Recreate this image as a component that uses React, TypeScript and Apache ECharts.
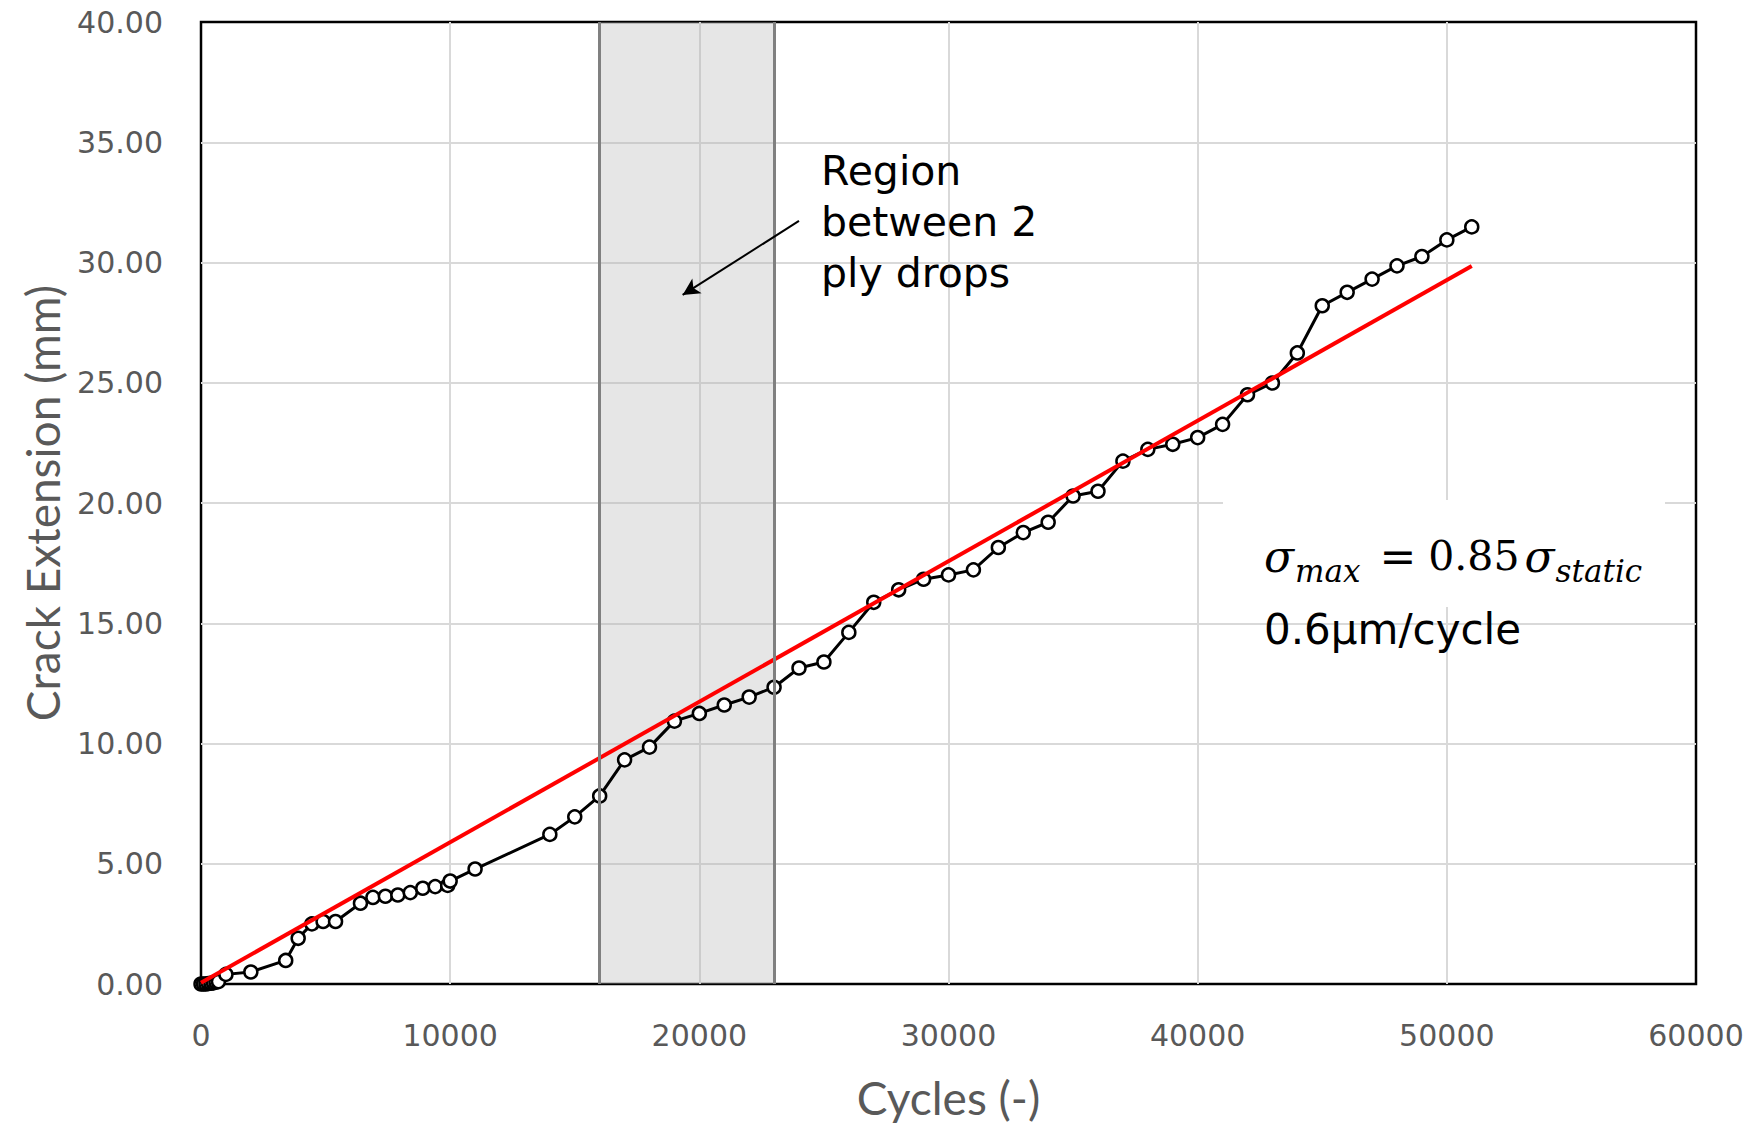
import React, { useEffect, useRef } from "react";
import * as echarts from "echarts";

// Measured crack growth: cycles vs crack extension (mm)
const cycles = [
  0, 100, 200, 300, 400, 500, 600, 700, 1000, 2000, 3400, 3900, 4450, 4900, 5400, 6400, 6900,
  7400, 7900, 8400, 8900, 9400, 9900, 10000, 11000, 14000, 15000, 16000, 17000, 18000, 19000,
  20000, 21000, 22000, 23000, 24000, 25000, 26000, 27000, 28000, 29000, 30000, 31000, 32000,
  33000, 34000, 35000, 36000, 37000, 38000, 39000, 40000, 41000, 42000, 43000, 44000, 45000,
  46000, 47000, 48000, 49000, 50000, 51000,
];
const crackExtension = [
  0, 0, 0, 0.02, 0.03, 0.05, 0.08, 0.1, 0.4, 0.5, 0.98, 1.9, 2.5, 2.6, 2.6, 3.36, 3.6,
  3.65, 3.7, 3.8, 3.98, 4.05, 4.1, 4.28, 4.78, 6.22, 6.95, 7.82, 9.32, 9.85, 10.93,
  11.25, 11.6, 11.93, 12.34, 13.14, 13.39, 14.62, 15.87, 16.39, 16.83, 17.01, 17.22, 18.15,
  18.77, 19.2, 20.29, 20.49, 21.74, 22.23, 22.44, 22.72, 23.27, 24.5, 24.99, 26.24, 28.2,
  28.76, 29.31, 29.86, 30.25, 30.94, 31.48,
];

// Linear fit (about 0.6 µm/cycle)
const fitCycles = [0, 51000];
const fitExtension = [0.05, 29.85];

// Region between the two ply drops
const plyDropStart = 16000;
const plyDropEnd = 23000;

// Arrow pointing into the region
const arrowFrom = [24000, 31.73];
const arrowTo = [19330, 28.65];

const xTicks = { min: 0, max: 60000, interval: 10000 };
const yTicks = { min: 0, max: 40, interval: 5 };

const axisFont = '"DejaVu Sans", Verdana, sans-serif';
const nameFont = 'Lato, "Noto Sans", sans-serif';
const serif = '"DejaVu Serif", "Liberation Serif", serif';

export default function App() {
  const ref = useRef<HTMLDivElement>(null);

  useEffect(() => {
    document.body.style.margin = "0";
    if (!ref.current) return;
    const chart = echarts.init(ref.current, undefined, { renderer: "svg" });

    const measured = cycles.map((c, i) => [c, crackExtension[i]]);
    const fit = fitCycles.map((c, i) => [c, fitExtension[i]]);

    chart.setOption({
      animation: false,
      backgroundColor: "#ffffff",
      grid: {
        left: 201,
        top: 22,
        right: 58,
        bottom: 138,
        show: true,
        borderColor: "#000000",
        borderWidth: 2.5,
        backgroundColor: "#ffffff",
      },
      xAxis: {
        type: "value",
        min: xTicks.min,
        max: xTicks.max,
        interval: xTicks.interval,
        name: "Cycles (-)",
        nameLocation: "middle",
        nameGap: 90,
        nameTextStyle: { fontFamily: nameFont, fontSize: 46, color: "#595959" },
        axisLine: { show: false },
        axisTick: { show: false },
        axisLabel: {
          fontFamily: axisFont,
          fontSize: 30,
          color: "#595959",
          margin: 36,
          formatter: (v: number) => String(v),
        },
        splitLine: {
          showMinLine: false,
          showMaxLine: false,
          lineStyle: { color: "#d9d9d9", width: 2 },
        },
      },
      yAxis: {
        type: "value",
        min: yTicks.min,
        max: yTicks.max,
        interval: yTicks.interval,
        name: "Crack Extension (mm)",
        nameLocation: "middle",
        nameGap: 136,
        nameTextStyle: { fontFamily: nameFont, fontSize: 46, color: "#595959" },
        axisLine: { show: false },
        axisTick: { show: false },
        axisLabel: {
          fontFamily: axisFont,
          fontSize: 30,
          color: "#595959",
          margin: 38,
          formatter: (v: number) => v.toFixed(2),
        },
        splitLine: {
          showMinLine: false,
          showMaxLine: false,
          lineStyle: { color: "#d9d9d9", width: 2 },
        },
      },
      series: [
        {
          name: "Crack extension",
          type: "line",
          data: measured,
          z: 2,
          symbol: "circle",
          symbolSize: 13,
          showAllSymbol: true,
          lineStyle: { color: "#000000", width: 3 },
          itemStyle: { color: "#ffffff", borderColor: "#000000", borderWidth: 2.5 },
        },
        {
          name: "Linear fit",
          type: "line",
          data: fit,
          z: 3,
          symbol: "none",
          lineStyle: { color: "#ff0000", width: 4 },
        },
        {
          name: "Ply drop region",
          type: "line",
          data: [],
          z: 5,
          markArea: {
            silent: true,
            itemStyle: { color: "rgba(178,178,178,0.33)" },
            data: [[{ xAxis: plyDropStart }, { xAxis: plyDropEnd }]],
          },
          markLine: {
            silent: true,
            symbol: "none",
            label: { show: false },
            lineStyle: { color: "#808080", width: 3, type: "solid" },
            data: [{ xAxis: plyDropStart }, { xAxis: plyDropEnd }],
          },
        },
        {
          name: "Arrow",
          type: "line",
          data: [],
          z: 6,
          markLine: {
            silent: true,
            symbol: ["none", "arrow"],
            symbolSize: [13, 17],
            label: { show: false },
            lineStyle: { color: "#000000", width: 2, type: "solid" },
            data: [[{ coord: arrowFrom }, { coord: arrowTo }]],
          },
        },
      ],
      graphic: [
        {
          type: "text",
          x: 821,
          y: 145,
          z: 10,
          style: {
            text: "Region\nbetween 2\nply drops",
            font: `41px ${axisFont}`,
            fill: "#000000",
            lineHeight: 51,
            verticalAlign: "top",
          },
        },
        {
          type: "rect",
          z: 8,
          shape: { x: 1223, y: 500, width: 442, height: 107 },
          style: { fill: "#ffffff" },
        },
        // σ_max = 0.85 σ_static, set as one rich text line with lowered subscripts
        {
          type: "text",
          x: 1264,
          y: 526,
          z: 10,
          style: {
            text: "{s|σ}{sub|max}{eq|=}{num|0.85}{s|σ}{sub|static}",
            verticalAlign: "top",
            fill: "#000",
            rich: {
              s: {
                fontFamily: serif,
                fontStyle: "italic",
                fontSize: 44,
                lineHeight: 44,
                verticalAlign: "middle",
              },
              sub: {
                fontFamily: serif,
                fontStyle: "italic",
                fontSize: 31,
                lineHeight: 60,
                verticalAlign: "bottom",
                padding: [0, 0, 0, 1],
              },
              eq: {
                fontFamily: serif,
                fontSize: 44,
                lineHeight: 44,
                verticalAlign: "middle",
                padding: [0, 12, 0, 19],
              },
              num: {
                fontFamily: serif,
                fontSize: 41,
                lineHeight: 44,
                verticalAlign: "middle",
                padding: [0, 5, 0, 0],
              },
            },
          },
        },
        {
          type: "text",
          x: 1264,
          y: 629,
          z: 10,
          style: { text: "0.6µm/cycle", font: `42px ${axisFont}`, fill: "#000", verticalAlign: "middle" },
        },
      ],
    });

    return () => chart.dispose();
  }, []);

  return <div ref={ref} style={{ width: 1754, height: 1125 }} />;
}
